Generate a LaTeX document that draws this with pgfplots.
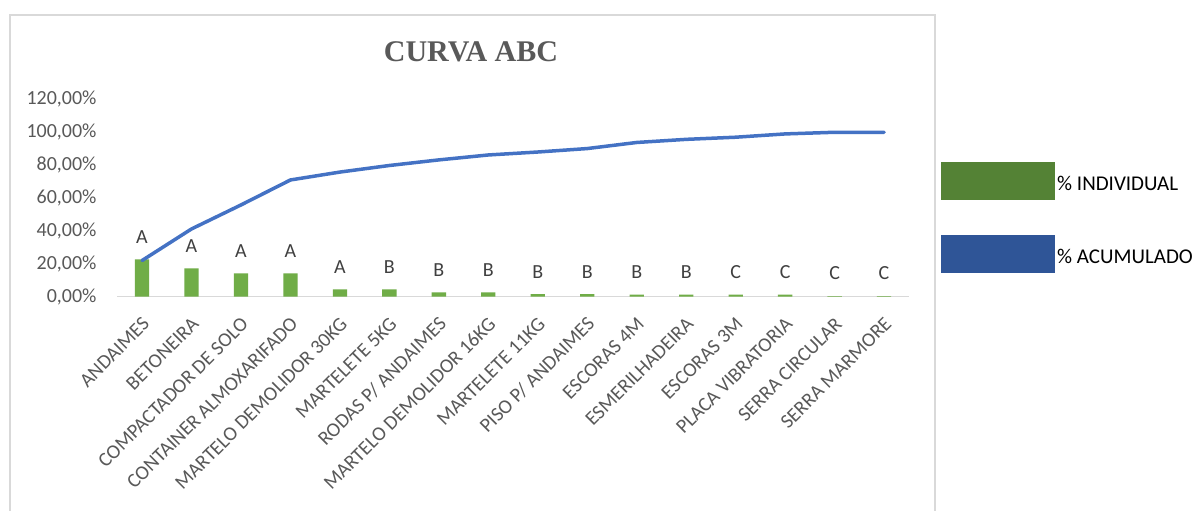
\documentclass[border=0pt]{standalone}
\usepackage{pgfplots}
\pgfplotsset{compat=1.18}
\usepackage{pgfplotstable}
\usepackage{fontspec}
\setmainfont{Carlito}
\newfontfamily\titlefont{Liberation Serif}
\definecolor{bargreen}{HTML}{70AD47}
\definecolor{linblue}{HTML}{4472C4}
\definecolor{leggreen}{HTML}{548235}
\definecolor{legblue}{HTML}{2F5597}
\definecolor{txtgray}{HTML}{595959}
\definecolor{lblgray}{HTML}{404040}
\definecolor{bordergray}{HTML}{D9D9D9}

\pgfplotstableread{
x ind cls
0 22.7 A
1 17.3 A
2 14.2 A
3 14.2 A
4 4.5 A
5 4.5 B
6 2.7 B
7 2.7 B
8 1.5 B
9 1.5 B
10 1.2 B
11 1.2 B
12 1.2 C
13 1.2 C
14 0.3 C
15 0.3 C
}\indtable

\pgfplotstableread{
x acc
0 22.0
1 41.2
2 55.8
3 71.0
4 75.8
5 79.8
6 83.2
7 86.2
8 88.0
9 90.1
10 93.8
11 95.7
12 97.0
13 99.0
14 100.0
15 100.0
}\acctable

\begin{document}
\begin{tikzpicture}
\path[use as bounding box] (0,0) rectangle (1202pt,511pt);
\fill[white] (0,0) rectangle (1202pt,511pt);
% chart area border
\draw[bordergray, line width=1.5pt] (10pt,-5pt) -- (10pt,496pt) -- (935pt,496pt) -- (935pt,-5pt);
% title
\node[font=\titlefont\bfseries\fontsize{30}{36}\selectfont, text=txtgray, inner sep=0pt] at (471pt,459pt) {CURVA ABC};
\begin{axis}[
  at={(117.3pt,214.3pt)}, anchor=south west,
  scale only axis, width=791.5pt, height=197.3pt,
  xmin=-0.5, xmax=15.5, ymin=0, ymax=120,
  clip=false,
  axis x line=bottom,
  axis y line=left,
  x axis line style={draw=bordergray, line width=1.5pt, -},
  y axis line style={draw=none, -},
  major tick length=0pt,
  xtick={0,...,15},
  xticklabels={ANDAIMES, BETONEIRA, COMPACTADOR DE SOLO, CONTAINER ALMOXARIFADO, MARTELO DEMOLIDOR 30KG, MARTELETE 5KG, RODAS P/ ANDAIMES, MARTELO DEMOLIDOR 16KG, MARTELETE 11KG, PISO P/ ANDAIMES, ESCORAS 4M, ESMERILHADEIRA, ESCORAS 3M, PLACA VIBRATORIA, SERRA CIRCULAR, SERRA MARMORE},
  xticklabel style={xshift=4pt, yshift=-24pt, rotate=45, anchor=east, inner sep=0pt, font=\fontsize{20}{24}\selectfont, text=txtgray},
  ytick={0,20,40,60,80,100,120},
  yticklabels={{0,00\%},{20,00\%},{40,00\%},{60,00\%},{80,00\%},{100,00\%},{120,00\%}},
  yticklabel style={anchor=east, inner sep=0pt, xshift=-20.6pt, font=\fontsize{20}{24}\selectfont, text=txtgray},
  /pgf/number format/assume math mode=true,
]
\addplot[ybar, bar width=14.3pt, fill=bargreen, draw=none,
  point meta=explicit symbolic,
  nodes near coords,
  every node near coord/.append style={anchor=south, inner sep=0pt, yshift=16pt, font=\fontsize{20}{24}\selectfont, text=lblgray}]
  table[x=x, y=ind, meta=cls] {\indtable};
\addplot[linblue, line width=3.5pt, line join=round, line cap=round, mark=none] table[x=x, y=acc] {\acctable};
\end{axis}
% legend
\fill[leggreen] (941pt,311pt) rectangle (1055pt,349pt);
\node[anchor=west, inner sep=0pt, font=\fontsize{21}{25}\selectfont, text=black] at (1057pt,328pt) {\% INDIVIDUAL};
\fill[legblue] (941pt,238pt) rectangle (1055pt,276pt);
\node[anchor=west, inner sep=0pt, font=\fontsize{21}{25}\selectfont, text=black] at (1057pt,255pt) {\% ACUMULADO};
\end{tikzpicture}
\end{document}
